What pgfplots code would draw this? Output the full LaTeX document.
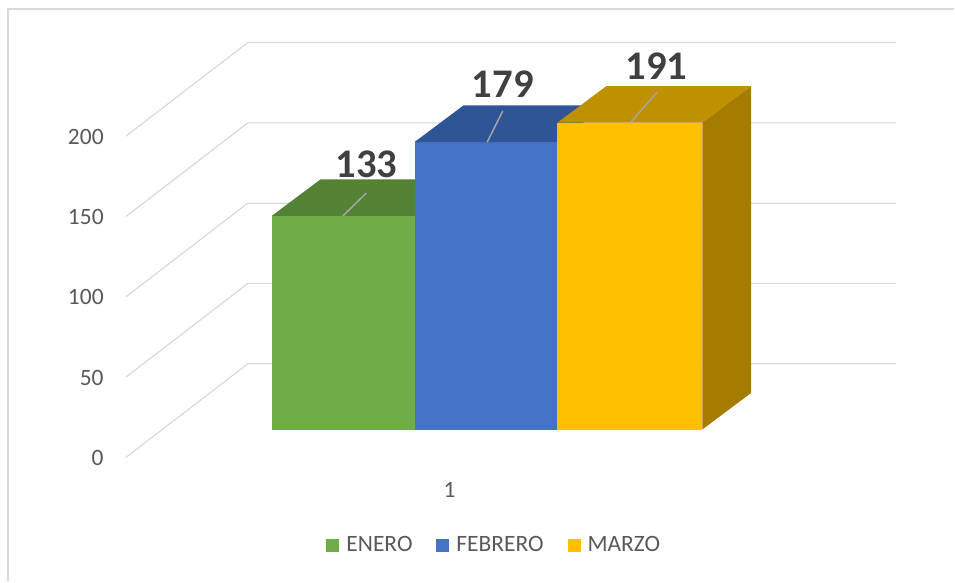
\documentclass[border=0pt]{standalone}
\usepackage{pgfplots}
\pgfplotsset{compat=1.18}
\usepackage{fontspec}
\setmainfont{Carlito}
\definecolor{gridc}{HTML}{D9D9D9}
\definecolor{labc}{HTML}{595959}
\definecolor{datc}{HTML}{404040}
\definecolor{leadc}{HTML}{A6A6A6}
\definecolor{gfront}{HTML}{70AD47}
\definecolor{gtop}{HTML}{548235}
\definecolor{bfront}{HTML}{4472C4}
\definecolor{btop}{HTML}{2F5597}
\definecolor{yfront}{HTML}{FFC000}
\definecolor{ytop}{HTML}{BF9000}
\definecolor{yside}{HTML}{A57C00}
\begin{document}
\begin{tikzpicture}
\begin{axis}[
  scale only axis, width=716.25pt, height=436.5pt,
  xmin=0, xmax=955, ymin=-94.53, ymax=267.41,
  axis line style={draw=none}, major tick length=0pt, tick style={draw=none},
  clip=false,
  ytick={0,50,100,150,200}, yticklabels={0,50,100,150,200},
  yticklabel style={anchor=east, inner sep=0pt, xshift=78pt, yshift=-21.4pt,
    font=\fontsize{17.6}{20}\selectfont, text=labc},
  xtick={450}, xticklabels={1},
  xticklabel style={anchor=center, inner sep=0pt, yshift=68.6pt,
    font=\fontsize{17.6}{20}\selectfont, text=labc},
  /pgf/number format/assume math mode=true,
  legend columns=3,
  legend style={at={(axis cs:494.5,-72.1)}, anchor=center, draw=none, fill=none,
    inner sep=0pt, font=\fontsize{17.6}{20}\selectfont, text=labc,
    nodes={inner sep=1pt},
    /tikz/every odd column/.append style={column sep=4.25pt},
    /tikz/every even column/.append style={column sep=17pt}},
  sq legend/.style={legend image code/.code={\fill[##1] (0pt,-4.875pt) rectangle (9.75pt,4.875pt);}},
]
\path (rel axis cs:0,0) rectangle (rel axis cs:1,1);
% chart frame
\draw[gridc, line width=1.5pt] (axis cs:8.5,-94.53) -- (axis cs:8.5,262.1) -- (axis cs:955,262.1);
% gridlines: left wall and back wall
\addplot[forget plot, gridc, line width=0.9pt] coordinates {(126,-17.4) (248,40.9) (897,40.9)};
\addplot[forget plot, gridc, line width=0.9pt] coordinates {(126,32.6) (248,90.9) (897,90.9)};
\addplot[forget plot, gridc, line width=0.9pt] coordinates {(126,82.6) (248,140.9) (897,140.9)};
\addplot[forget plot, gridc, line width=0.9pt] coordinates {(126,132.6) (248,190.9) (897,190.9)};
\addplot[forget plot, gridc, line width=0.9pt] coordinates {(126,182.6) (248,240.9) (897,240.9)};
% ENERO
\addplot[ybar, bar width=143, bar shift=0pt, fill=gfront, draw=none, sq legend,
  nodes near coords, every node near coord/.append style={anchor=center, xshift=17.6pt, yshift=38.6pt,
  font=\bfseries\fontsize{30.5}{32}\selectfont, text=datc}] coordinates {(343.5,133)};
\addlegendentry{ENERO}
\addplot[forget plot, fill=gtop, draw=none] coordinates {(272,133) (415,133) (464,155.8) (321,155.8)};
% FEBRERO
\addplot[ybar, bar width=143, bar shift=0pt, fill=bfront, draw=none, sq legend,
  nodes near coords, every node near coord/.append style={anchor=center, xshift=12.6pt, yshift=43.1pt,
  font=\bfseries\fontsize{30.5}{32}\selectfont, text=datc}] coordinates {(486.5,179)};
\addlegendentry{FEBRERO}
\addplot[forget plot, fill=btop, draw=none] coordinates {(415,179) (558,179) (607,201.8) (464,201.8)};
% MARZO
\addplot[ybar, bar width=145, bar shift=0pt, fill=yfront, draw=none, sq legend,
  nodes near coords, every node near coord/.append style={anchor=center, xshift=19.9pt, yshift=42.1pt,
  font=\bfseries\fontsize{30.5}{32}\selectfont, text=datc}] coordinates {(630.5,191)};
\addlegendentry{MARZO}
\addplot[forget plot, fill=ytop, draw=none] coordinates {(558,191) (703,191) (752,213.8) (607,213.8)};
\addplot[forget plot, fill=yside, draw=none] coordinates {(703,0) (752,22.8) (752,213.8) (703,191)};
% leader lines
\addplot[forget plot, leadc, line width=1.1pt] coordinates {(343.3,133) (366.7,147.2)};
\addplot[forget plot, leadc, line width=1.1pt] coordinates {(487.7,179) (503.3,198.4)};
\addplot[forget plot, leadc, line width=1.1pt] coordinates {(631,191) (657.7,210.0)};
\end{axis}
\end{tikzpicture}
\end{document}
